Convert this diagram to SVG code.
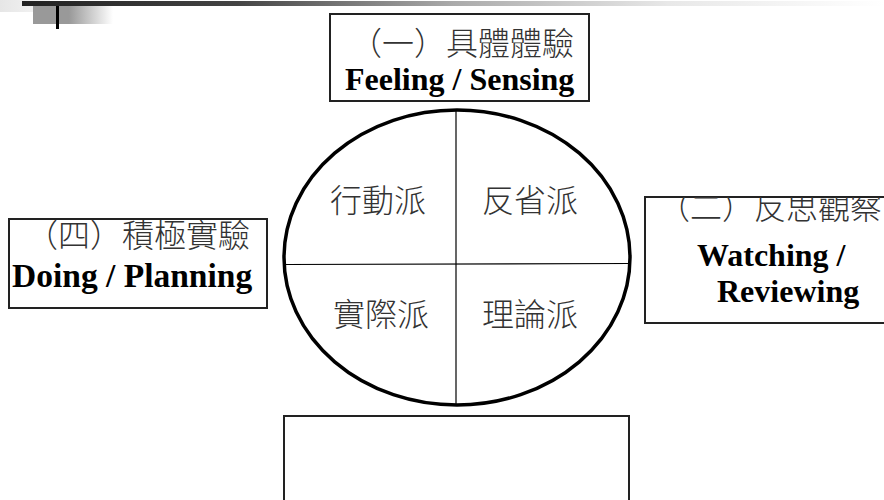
<svg xmlns="http://www.w3.org/2000/svg" width="884" height="500" viewBox="0 0 884 500">
<style>
.box{fill:#fff;stroke:#222;stroke-width:2}
.cjk{font-family:"Noto Sans CJK TC","Noto Sans CJK SC",sans-serif;font-size:32px;font-weight:300;fill:#333}
.en{font-family:"Liberation Serif","Times New Roman",serif;font-size:32px;font-weight:bold;fill:#000}
</style>
<defs>
<linearGradient id="bar" x1="0" y1="0" x2="1" y2="0">
<stop offset="0" stop-color="#222"/>
<stop offset="0.25" stop-color="#444"/>
<stop offset="0.5" stop-color="#aaa"/>
<stop offset="0.75" stop-color="#e8e8e8"/>
<stop offset="1" stop-color="#fff"/>
</linearGradient>
<linearGradient id="blk" x1="0" y1="0" x2="1" y2="0">
<stop offset="0" stop-color="#999"/>
<stop offset="0.45" stop-color="#999"/>
<stop offset="1" stop-color="#fff"/>
</linearGradient>
<linearGradient id="lt" x1="0" y1="0" x2="1" y2="0">
<stop offset="0" stop-color="#e6e6e6"/>
<stop offset="1" stop-color="#f6f6f6"/>
</linearGradient>
<clipPath id="cR"><rect x="645" y="197" width="239" height="126"/></clipPath>
<clipPath id="cL"><rect x="9" y="219" width="258" height="89"/></clipPath>
</defs>
<rect width="884" height="500" fill="#fff"/>
<g id="header">
<rect x="0" y="0" width="50" height="12" fill="url(#lt)"/>
<rect x="22" y="1" width="862" height="5" fill="url(#bar)"/>
<rect x="33" y="6" width="80" height="18" fill="url(#blk)"/>
<rect x="56" y="6" width="3" height="23" fill="#000"/>
</g>
<g id="connectors">
<ellipse cx="457" cy="257.5" rx="173" ry="147.5" fill="none" stroke="#000" stroke-width="3.5"/>
<line x1="456" y1="110" x2="456" y2="405" stroke="#000" stroke-width="1.2"/>
<line x1="285" y1="264.5" x2="629" y2="263.5" stroke="#000" stroke-width="1.2"/>
</g>
<g id="quadrants">
<text class="cjk" x="330" y="212">行動派</text>
<text class="cjk" x="482" y="212">反省派</text>
<text class="cjk" x="333" y="326">實際派</text>
<text class="cjk" x="482" y="326">理論派</text>
</g>
<g id="node-top">
<rect class="box" x="330" y="14" width="259" height="87"/>
<text class="cjk" x="350" y="55">（一）具體體驗</text>
<text class="en" x="345" y="90">Feeling / Sensing</text>
</g>
<g id="node-right">
<rect class="box" x="645" y="197" width="245" height="126"/>
<g clip-path="url(#cR)">
<text class="cjk" x="658" y="219">（二）反思觀察</text>
</g>
<text class="en" x="697" y="266">Watching /</text>
<text class="en" x="717" y="302">Reviewing</text>
</g>
<g id="node-left">
<rect class="box" x="9" y="219" width="258" height="89"/>
<g clip-path="url(#cL)">
<text class="cjk" x="26" y="247">（四）積極實驗</text>
</g>
<text class="en" x="12" y="287" style="font-size:33.5px">Doing / Planning</text>
</g>
<g id="node-bottom">
<rect class="box" x="284" y="416" width="345" height="100"/>
</g>
</svg>
